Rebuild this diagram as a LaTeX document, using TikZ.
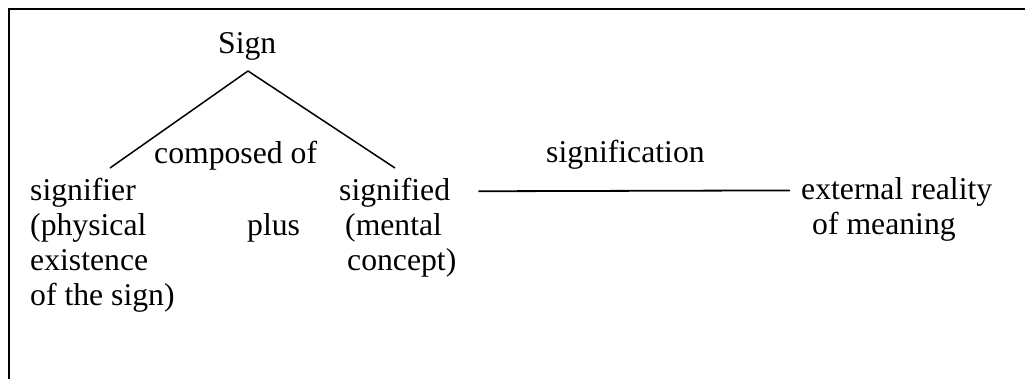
\documentclass[tikz,border=0pt]{standalone}
\usepackage{fontspec}
\setmainfont{Liberation Serif}
\begin{document}
\begin{tikzpicture}[x=1pt,y=1pt,
  txt/.style={inner sep=0pt,anchor=base west,font=\fontsize{31.7}{35.5}\selectfont},
  conn/.style={line width=1.5pt,black},
  frame/.style={line width=2.2pt,black}]
\useasboundingbox (0,0) rectangle (1025,379);
% frame
\draw[frame] (9,0) -- (9,370) -- (1025,370);
% texts
\node[txt] (sign) at (218,325) {Sign};
\node[txt] (composed) at (154,215) {composed of};
\node[txt] (signification) at (546,216) {signification};
\node[txt] (sr1) at (30,178) {signifier};
\node[txt] (sr2) at (30,143) {(physical};
\node[txt] (sr3) at (30,108) {existence};
\node[txt] (sr4) at (30,73) {of the sign)};
\node[txt] (plus) at (247,143) {plus};
\node[txt] (sd1) at (339,178) {signified};
\node[txt] (sd2) at (345,143) {(mental};
\node[txt] (sd3) at (347,108) {concept)};
\node[txt] (ext1) at (801,179) {external reality};
\node[txt] (ext2) at (812,144) {of meaning};
% connectors
\coordinate (apex) at (248,308);
\coordinate (lend) at (110,211);
\coordinate (rend) at (395,211);
\draw[conn] (lend) -- (apex) -- (rend);
\draw[conn,line width=1.8pt] ([shift={(28pt,2pt)}]sd1.east) -- ([shift={(-11pt,2pt)}]ext1.west);
\end{tikzpicture}
\end{document}
